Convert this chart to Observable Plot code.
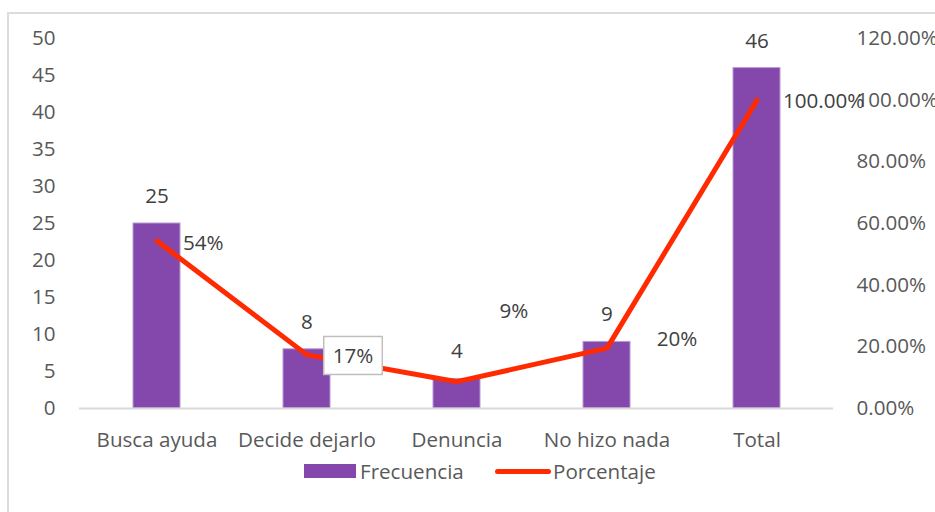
<!DOCTYPE html>
<html>
<head>
<meta charset="utf-8">
<script src="https://cdn.jsdelivr.net/npm/d3@7"></script>
<script src="https://cdn.jsdelivr.net/npm/@observablehq/plot@0.6"></script>
<style>
  html, body { margin: 0; padding: 0; background: #fff; overflow: hidden; width: 935px; height: 512px; }
  #wrap { position: relative; width: 935px; height: 512px; overflow: hidden; }
  #frame { position: absolute; left: 7px; top: 12px; width: 1000px; height: 600px; border: 2px solid #dcdcdc; box-sizing: border-box; }
  #chart { position: absolute; left: 0; top: 0; }
  #legend { position: absolute; left: 0; top: 458px; width: 935px; height: 26px; font-family: "Open Sans", sans-serif; font-size: 20.6px; color: #595959; }
  .sw { position: absolute; }
  .lt { position: absolute; top: 0; line-height: 26px; }
</style>
</head>
<body>
<div id="wrap">
  <div id="frame"></div>
  <div id="chart"></div>
  <div id="legend">
    <div class="sw" style="left:304px; top:6px; width:52px; height:14px; background:#8447AC;"></div>
    <div class="lt" style="left:360px;">Frecuencia</div>
    <div class="sw" style="left:495px; top:11px; width:56px; height:5px; border-radius:3px; background:#FF2A00;"></div>
    <div class="lt" style="left:553px;">Porcentaje</div>
  </div>
</div>
<script>
const categorias = ["Busca ayuda", "Decide dejarlo", "Denuncia", "No hizo nada", "Total"];
const frecuencia = [25, 8, 4, 9, 46];
const porcentaje = [0.5435, 0.1739, 0.0870, 0.1957, 1.0];
const etiquetasPct = ["54%", "17%", "9%", "20%", "100.00%"];
const ticksIzq = [0, 5, 10, 15, 20, 25, 30, 35, 40, 45, 50];
const ticksDer = [0, 0.2, 0.4, 0.6, 0.8, 1.0, 1.2];

const PCT_MAX = 1.2, FREQ_MAX = 50;
const toY = p => p / PCT_MAX * FREQ_MAX;

const data = categorias.map((c, i) => ({
  cat: c, freq: frecuencia[i], pct: porcentaje[i], pctY: toY(porcentaje[i]), label: etiquetasPct[i], i
}));

const font = "'Open Sans', sans-serif";
const FS = 20.6;
const pctLabel = (i, opts) => Plot.text(data.filter(d => d.i === i), {
  x: "cat", y: "pctY", text: "label", fill: "#404040", fontSize: FS, ...opts
});

const plot = Plot.plot({
  width: 935,
  height: 512,
  marginLeft: 79,
  marginRight: 102,
  marginTop: 38,
  marginBottom: 104,
  style: { fontFamily: font, fontSize: FS + "px", background: "transparent", overflow: "visible" },
  x: { domain: categorias, paddingInner: 0.69, paddingOuter: 0.345, label: null },
  y: { domain: [0, FREQ_MAX], label: null },
  marks: [
    Plot.axisY(ticksIzq, { anchor: "left", tickSize: 0, tickPadding: 24, label: null, fill: "#595959", fontSize: FS }),
    Plot.axisY(ticksDer.map(toY), { anchor: "right", tickSize: 0, tickPadding: 23, label: null, fill: "#595959", fontSize: FS,
      tickFormat: v => (v / FREQ_MAX * PCT_MAX * 100).toFixed(2) + "%" }),
    Plot.axisX({ tickSize: 0, tickPadding: 24, label: null, fill: "#595959", fontSize: FS }),
    Plot.barY(data, { x: "cat", y: "freq", fill: "#8447AC", stroke: "#B79AD2", strokeWidth: 1 }),
    Plot.ruleY([0], { stroke: "#d9d9d9", strokeWidth: 2 }),
    Plot.line(data, { x: "cat", y: "pctY", stroke: "#FF2A00", strokeWidth: 5, strokeLinejoin: "round", strokeLinecap: "round" }),
    Plot.text(data, { x: "cat", y: "freq", text: d => String(d.freq), dy: -27, fill: "#404040", fontSize: FS }),
    pctLabel(0, { textAnchor: "start", dx: 26, dy: 2 }),
    pctLabel(1, { dx: 46, dy: 2, className: "boxed" }),
    pctLabel(2, { dx: 57, dy: -70 }),
    pctLabel(3, { dx: 70, dy: -9 }),
    pctLabel(4, { textAnchor: "start", dx: 26, dy: 1 })
  ]
});

document.getElementById("chart").appendChild(plot);

// white box with grey border behind the boxed label
const g = plot.querySelector("g.boxed");
if (g) {
  g.querySelectorAll("text").forEach(t => {
    const b = t.getBBox();
    const tr = t.getAttribute("transform");
    const r = document.createElementNS("http://www.w3.org/2000/svg", "rect");
    const px = 9, py = 5;
    r.setAttribute("x", b.x - px);
    r.setAttribute("y", b.y - py);
    r.setAttribute("width", b.width + 2 * px);
    r.setAttribute("height", b.height + 2 * py);
    if (tr) r.setAttribute("transform", tr);
    r.setAttribute("fill", "#fff");
    r.setAttribute("stroke", "#bfbfbf");
    r.setAttribute("stroke-width", "1.5");
    t.parentNode.insertBefore(r, t);
  });
}
</script>
</body>
</html>
